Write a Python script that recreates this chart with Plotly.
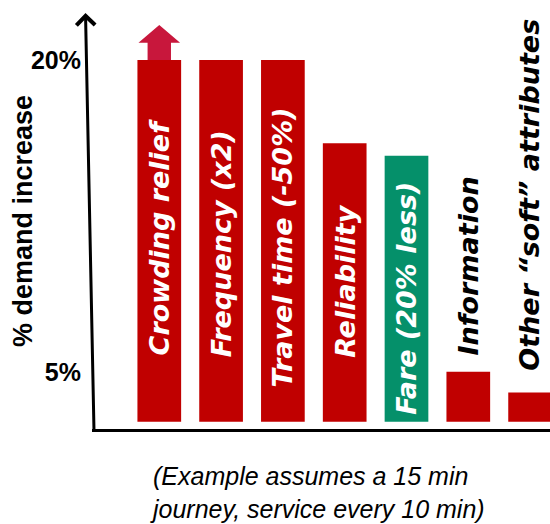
import plotly.graph_objects as go

# ---- data ----
categories = ["Crowding relief", "Frequency (x2)", "Travel time (-50%)", "Reliability",
              "Fare (20% less)", "Information", "Other \u201csoft\u201d attributes"]
values = [20, 20, 20, 16, 15.4, 5, 4]          # % demand increase
tick_vals = [5, 20]
tick_text = ["<b>5%</b>", "<b>20%</b>"]
BASE = 2.6                                      # bars start slightly above the axis

# ---- styles ----
RED = "#C00000"
GREEN = "#05906A"
ARROW = "#C8173C"
bar_colors = [RED, RED, RED, RED, GREEN, RED, RED]
label_colors = ["white"] * 5 + ["black"] * 2
label_shift = [64, 62, 32, 62, 5, 64, 49]       # px above bar base where label starts

W, H = 550, 524
L, R, T, B = 90, 0, 15, 93
PW, PH = W - L - R, H - T - B

def px(x):
    return (x - L) / PW

def py(y):
    return (H - B - y) / PH

fig = go.Figure()
fig.add_trace(go.Bar(
    x=categories,
    y=[v - BASE for v in values],
    base=BASE,
    marker=dict(color=bar_colors, line=dict(width=0)),
    width=0.707,
    hoverinfo="skip",
))

annotations = []
for cat, col, sh in zip(categories, label_colors, label_shift):
    annotations.append(dict(
        x=cat, y=BASE, xref="x", yref="y", yshift=sh,
        text="<b><i>" + cat + "</i></b>", textangle=-90, showarrow=False,
        xanchor="center", yanchor="bottom",
        font=dict(family="DejaVu Sans", size=27, color=col),
    ))

# y-axis title
annotations.append(dict(
    x=px(23), y=py(221), xref="paper", yref="paper",
    text="<b>% demand increase</b>", textangle=-90, showarrow=False,
    xanchor="center", yanchor="middle",
    font=dict(family="Liberation Sans", size=27, color="black"),
))

# y-axis arrow
annotations.append(dict(
    x=px(85.5), y=py(13), xref="paper", yref="paper",
    ax=8.5, ay=418, axref="pixel", ayref="pixel",
    text="", showarrow=True, arrowhead=4, arrowsize=1.2, arrowwidth=3,
    arrowcolor="black",
))

# footnote
annotations.append(dict(
    x=px(148), y=py(525), xref="paper", yref="paper",
    text="<i>(Example assumes a 15 min<br>journey, service every 10 min)</i>",
    showarrow=False, xanchor="left", yanchor="bottom", align="left",
    font=dict(family="Liberation Sans", size=25, color="black"),
))

shapes = [
    # x-axis line
    dict(type="line", xref="paper", yref="paper",
         x0=px(92), x1=1.0, y0=py(430.5), y1=py(430.5),
         line=dict(color="black", width=3)),
    # up arrow above the crowding bar
    dict(type="path", xref="x", yref="y", xsizemode="pixel", ysizemode="pixel",
         xanchor=categories[0], yanchor=values[0],
         path="M-11.7,0 L-11.7,17.3 L-20.8,17.3 L0,35 L20.8,17.3 L11.7,17.3 L11.7,0 Z",
         fillcolor=ARROW, line=dict(width=0)),
]

fig.update_layout(
    width=W, height=H,
    margin=dict(l=L, r=R, t=T, b=B),
    paper_bgcolor="white", plot_bgcolor="white",
    showlegend=False,
    annotations=annotations,
    shapes=shapes,
    xaxis=dict(type="category", range=[-1.121, 6.322], showticklabels=False,
               showgrid=False, zeroline=False, showline=False, ticks=""),
    yaxis=dict(range=[2.15, 22.17], tickvals=tick_vals, ticktext=tick_text,
               showgrid=False, zeroline=False, showline=False, ticks="",
               ticklabelstandoff=8,
               tickfont=dict(family="Liberation Sans", size=25, color="black")),
)

fig.write_html("out.html")
